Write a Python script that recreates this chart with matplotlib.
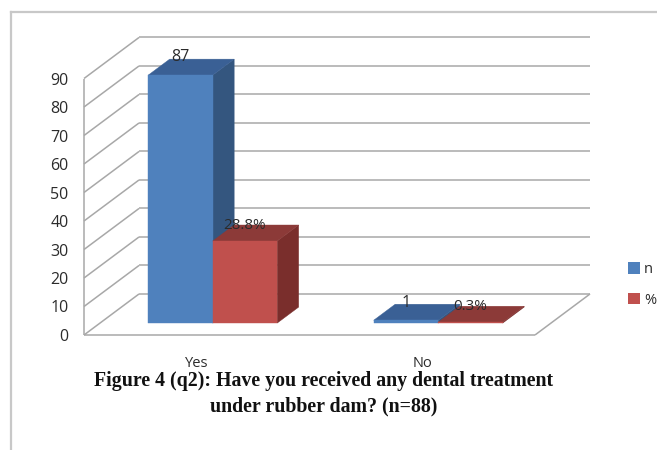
"""
Figure 4 (q2) - Excel style 3D clustered columns, drawn on a flat axes
with an oblique projection for the depth.
"""

import matplotlib
matplotlib.use('Agg')
import matplotlib.pyplot as plt
from matplotlib.lines import Line2D
from matplotlib.patches import Polygon, Patch

categories = ['Yes', 'No']
series_names = ['n', '%']
n_values = [87, 1]
pct_values = [28.8, 0.3]
y_ticks = [0, 10, 20, 30, 40, 50, 60, 70, 80, 90]

W, H = 657, 450
BAR_W = 0.286
# depth of the box, one unit of z moves the point right and up
DX = 0.244
DY = 14.4
Z_FRONT, Z_BACK = 0.29, 0.68

GRID = '#a8a8a8'
TEXT = '#2b2b2b'
colors = {
    'n': {'front': '#4f81bd', 'side': '#34567f', 'top': '#3a6095'},
    '%': {'front': '#c0504d', 'side': '#7a2e2c', 'top': '#8c3a38'},
}


def project(x, v, z):
    return x + z * DX, v + z * DY


def draw_bar(ax, x0, value, style, order):
    x1 = x0 + BAR_W
    faces = [
        ('side', [(x1, 0, Z_FRONT), (x1, 0, Z_BACK), (x1, value, Z_BACK), (x1, value, Z_FRONT)]),
        ('top', [(x0, value, Z_FRONT), (x1, value, Z_FRONT), (x1, value, Z_BACK), (x0, value, Z_BACK)]),
        ('front', [(x0, 0, Z_FRONT), (x1, 0, Z_FRONT), (x1, value, Z_FRONT), (x0, value, Z_FRONT)]),
    ]
    for name, pts in faces:
        ax.add_patch(Polygon([project(*p) for p in pts], closed=True, facecolor=style[name],
                             edgecolor=style[name], linewidth=0.3, zorder=order, clip_on=False))


fig = plt.figure(figsize=(W / 100, H / 100), dpi=100, facecolor='white')
plt.rcParams['font.family'] = ['Open Sans', 'DejaVu Sans']

# y=0 sits at pixel row 335, y=90 at 78.5, floor runs from column 84 to 535
ax = fig.add_axes([84 / W, (H - 335) / H, (535 - 84) / W, (335 - 78.5) / H])
ax.set_xlim(-0.5, 1.5)
ax.set_ylim(0, 90)
ax.patch.set_alpha(0)
for spine in ax.spines.values():
    spine.set_visible(False)

ax.set_xticks(range(len(categories)))
ax.set_xticklabels(categories, fontsize=10.5, color=TEXT)
ax.set_yticks(y_ticks)
ax.tick_params(axis='y', length=0, pad=11, labelsize=11.5, labelcolor=TEXT)
ax.tick_params(axis='x', length=0, pad=15)

# walls and floor
left = ax.get_xlim()[0]
right = ax.get_xlim()[1]
line_kw = dict(color=GRID, linewidth=1.1, clip_on=False, zorder=1, solid_capstyle='butt')
for tick in y_ticks:
    bx, by = project(left, tick, 1)
    ax.plot([left, bx], [tick, by], **line_kw)
    ex, _ = project(right, tick, 1)
    ax.plot([bx, ex], [by, by], **line_kw)
ax.plot([left, left], [0, y_ticks[-1]], **line_kw)
ax.plot([left, right], [0, 0], **line_kw)
ex, ey = project(right, 0, 1)
ax.plot([right, ex], [0, ey], **line_kw)

# bars
for i, (cat, n, pct) in enumerate(zip(categories, n_values, pct_values)):
    x_blue = i - BAR_W
    draw_bar(ax, x_blue, n, colors['n'], 3 + i)
    draw_bar(ax, i, pct, colors['%'], 3.5 + i)

    tx, ty = project(x_blue + BAR_W / 2, n, Z_BACK)
    ax.text(tx - 0.095, ty + 0.6, str(n), ha='center', va='center', fontsize=11.5,
            color=TEXT, zorder=6)
    tx, ty = project(i + BAR_W / 2, pct, Z_BACK)
    ax.text(tx - 0.095, ty - 0.1, f'{pct}%', ha='center', va='center', fontsize=11,
            color=TEXT, zorder=6)

handles = [Patch(facecolor=colors[s]['front'], label=s) for s in series_names]
fig.legend(handles=handles, loc='upper left', bbox_to_anchor=(622 / W, (H - 256.5) / H),
           frameon=False, fontsize=10.5, labelcolor=TEXT, handlelength=0.85, handleheight=0.85,
           handletextpad=0.25, labelspacing=1.05, borderpad=0.4, borderaxespad=0)

title_lines = ['Figure 4 (q2): Have you received any dental treatment',
               'under rubber dam? (n=88)']
fig.text(324 / W, 1 - 381 / H, title_lines[0], ha='center', va='center',
         family='Liberation Serif', weight='bold', fontsize=14.3, color='#111111')
fig.text(324 / W, 1 - 406 / H, title_lines[1], ha='center', va='center',
         family='Liberation Serif', weight='bold', fontsize=14.3, color='#111111')

# picture frame, only left and top survive in the scan
frame_kw = dict(color='#c8c8c8', linewidth=1.6, transform=fig.transFigure)
fig.add_artist(Line2D([11 / W, 11 / W], [0, 1 - 12 / H], **frame_kw))
fig.add_artist(Line2D([11 / W, 1], [1 - 12 / H, 1 - 12 / H], **frame_kw))

fig.savefig('out.png', dpi=100)
